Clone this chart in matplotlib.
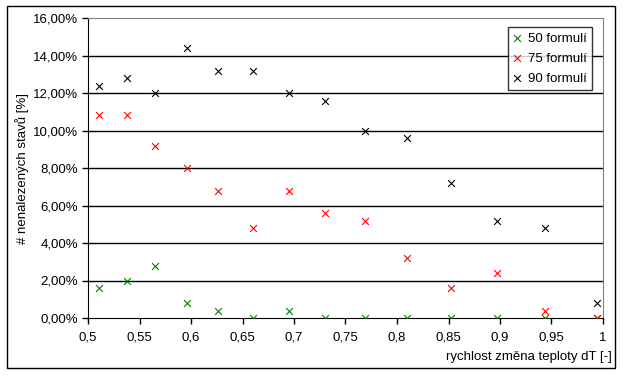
import numpy as np
import matplotlib
matplotlib.use("Agg")
import matplotlib.pyplot as plt
from matplotlib.ticker import FuncFormatter, MultipleLocator
from matplotlib.patches import Rectangle

plt.rcParams['font.family'] = ['Liberation Sans', 'DejaVu Sans']

# rychlost zmena teploty dT
dt = [0.511, 0.538, 0.565, 0.596, 0.626, 0.660, 0.695, 0.730, 0.769,
      0.810, 0.852, 0.897, 0.944, 0.994]
# % nenalezenych stavu
f50 = [1.6, 2.0, 2.8, 0.8, 0.4, 0.0, 0.4, 0.0, 0.0, 0.0, 0.0, 0.0, 0.0, 0.0]
f75 = [10.8, 10.8, 9.2, 8.0, 6.8, 4.8, 6.8, 5.6, 5.2, 3.2, 1.6, 2.4, 0.4, 0.0]
f90 = [12.4, 12.8, 12.0, 14.4, 13.2, 13.2, 12.0, 11.6, 10.0, 9.6, 7.2, 5.2, 4.8, 0.8]

series = [("50 formulí", f50, "#008000"),
          ("75 formulí", f75, "#ff0000"),
          ("90 formulí", f90, "#000000")]

fs = 9.5

fig = plt.figure(figsize=(6.24, 3.75), dpi=100)
ax = fig.add_axes([88 / 624, 57 / 375, 515 / 624, 300 / 375])

# outer chart frame
fig.patches.append(Rectangle((7 / 624, 7 / 375), 608 / 624, 362 / 375,
                             transform=fig.transFigure, fill=False,
                             edgecolor='black', linewidth=1))

for label, vals, col in series:
    ax.scatter(dt, np.array(vals) / 100, marker='x', s=24, color=col,
               linewidths=0.8, label=label, zorder=3)

ax.set_xlim(0.5, 1.0)
ax.set_ylim(0, 0.16)
ax.xaxis.set_major_locator(MultipleLocator(0.05))
ax.yaxis.set_major_locator(MultipleLocator(0.02))

def xfmt(v, pos):
    s = ('%.2f' % v).rstrip('0').rstrip('.')
    return s.replace('.', ',')

ax.xaxis.set_major_formatter(FuncFormatter(xfmt))
ax.yaxis.set_major_formatter(FuncFormatter(lambda v, p: ('%.2f%%' % (v * 100)).replace('.', ',')))

for y in np.arange(0.02, 0.15, 0.02):
    ax.axhline(y, color='black', linewidth=1, zorder=1)

ax.spines['left'].set_color('black')
ax.spines['bottom'].set_color('black')
ax.spines['top'].set_color('#808080')
ax.spines['right'].set_color('#808080')
ax.tick_params(axis='both', direction='out', length=4, width=1, labelsize=fs,
               colors='black')
ax.tick_params(axis='x', pad=6)
ax.tick_params(axis='y', pad=3)

ax.set_ylabel('# nenalezených stavů [%]', fontsize=fs, labelpad=3)
fig.text(612 / 624, (375 - 357) / 375, 'rychlost změna teploty dT [-]',
         ha='right', va='center', fontsize=fs)

leg = ax.legend(loc='upper right', bbox_to_anchor=(0.979, 0.97), fontsize=fs,
                frameon=True, fancybox=False, edgecolor='black',
                handlelength=0.6, handletextpad=0.5, borderpad=0.4,
                labelspacing=0.6, borderaxespad=0)
leg.get_frame().set_linewidth(1)

fig.savefig('out.png', dpi=100)
